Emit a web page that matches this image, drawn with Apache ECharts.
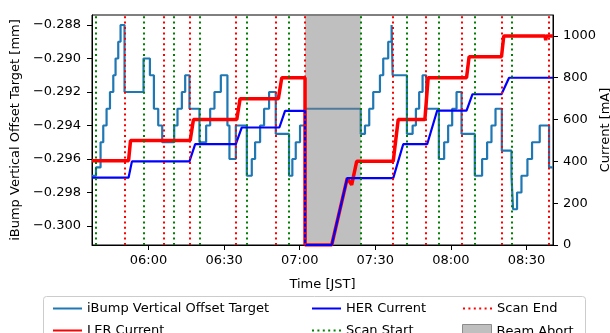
<!DOCTYPE html>
<html>
<head>
<meta charset="utf-8">
<script src="https://cdn.jsdelivr.net/npm/echarts@6/dist/echarts.min.js"></script>
<style>
  html, body { margin: 0; padding: 0; background: #fff; }
  #chart { width: 610px; height: 333px; }
</style>
</head>
<body>
<div id="chart"></div>
<script>
// Axis ticks and range (JST)
const timeTicks = ['06:00', '06:30', '07:00', '07:30', '08:00', '08:30'];
const timeRange = ['05:37:34', '08:40:32'];
const offsetTicks = [-0.300, -0.298, -0.296, -0.294, -0.292, -0.290, -0.288];
const offsetRange = [-0.301134, -0.287403];
const currentTicks = [0, 200, 400, 600, 800, 1000];
const currentRange = [0, 1100];

// Scan markers and beam abort window
const scanStart = ['05:39:09', '05:58:01', '06:10:11', '06:20:13', '06:39:01', '06:55:46',
                   '07:24:12', '07:42:33', '07:55:14', '08:09:30', '08:24:03'];
const scanEnd = ['05:50:29', '06:06:13', '06:16:15', '06:34:39', '06:50:30', '07:02:07',
                 '07:36:53', '07:50:12', '08:04:14', '08:20:13', '08:38:58'];
const beamAbort = ['07:02:07', '07:24:12'];

// iBump vertical offset target (mm), step changes
const offsetTimes = [
  '05:37:34', '05:39:09', '05:40:58', '05:42:02', '05:43:21', '05:44:42', '05:46:01', '05:46:55',
  '05:47:59', '05:48:54', '05:50:29', '05:58:01', '06:00:33', '06:02:08', '06:03:51', '06:05:26',
  '06:10:11', '06:11:30', '06:13:14', '06:14:33', '06:16:15', '06:20:13', '06:22:52', '06:24:28',
  '06:26:10', '06:28:42', '06:31:19', '06:32:07', '06:34:39', '06:39:01', '06:40:59', '06:42:18',
  '06:44:17', '06:45:52', '06:47:51', '06:50:30', '06:55:46', '06:57:05', '06:58:26', '07:00:08',
  '07:02:07', '07:24:12', '07:25:54', '07:27:36', '07:29:11', '07:31:51', '07:33:09', '07:35:08',
  '07:36:29', '07:36:53', '07:42:33', '07:44:49', '07:46:07', '07:47:25', '07:48:46', '07:50:12',
  '07:55:14', '07:57:20', '07:58:55', '08:00:31', '08:02:15', '08:04:14', '08:09:30', '08:12:24',
  '08:14:23', '08:16:07', '08:17:43', '08:20:13', '08:24:03', '08:24:41', '08:26:16', '08:28:01',
  '08:30:23', '08:32:13', '08:35:16', '08:38:58', '08:40:32'
];
const offsetValues = [
  -0.297, -0.2965, -0.295, -0.294, -0.293, -0.292, -0.291, -0.290,
  -0.289, -0.288, -0.292, -0.290, -0.291, -0.293, -0.294, -0.295,
  -0.294, -0.293, -0.292, -0.291, -0.293, -0.295, -0.294, -0.293,
  -0.292, -0.291, -0.294, -0.296, -0.294, -0.297, -0.296, -0.295,
  -0.294, -0.293, -0.292, -0.2945, -0.297, -0.296, -0.295, -0.294,
  -0.293, -0.2945, -0.294, -0.293, -0.292, -0.291, -0.290, -0.289,
  -0.288, -0.291, -0.2945, -0.294, -0.293, -0.292, -0.291, -0.293,
  -0.296, -0.295, -0.294, -0.293, -0.292, -0.2945, -0.297, -0.296,
  -0.295, -0.294, -0.293, -0.2955, -0.297, -0.299, -0.298, -0.297,
  -0.296, -0.295, -0.294, -0.2965, -0.2965
];

// LER beam current (mA)
const lerTimes = [
  '05:37:34', '05:52:04', '05:52:52', '06:16:32', '06:17:50', '06:35:02', '06:36:21', '06:51:32',
  '06:52:53', '07:02:07', '07:02:08', '07:12:42', '07:18:53', '07:20:38', '07:22:37', '07:37:07',
  '07:39:06', '07:49:41', '07:50:59', '08:06:13', '08:07:14', '08:20:05', '08:21:00', '08:37:22',
  '08:37:39', '08:37:56', '08:40:32'
];
const lerValues = [
  403, 403, 500, 500, 600, 600, 700, 700,
  800, 800, 0, 0, 320, 288, 400, 400,
  600, 600, 800, 800, 900, 900, 1000, 1000,
  980, 1000, 1000
];

// HER beam current (mA)
const herTimes = [
  '05:37:34', '05:52:04', '05:53:25', '06:16:15', '06:18:31', '06:34:39', '06:37:01', '06:51:56',
  '06:54:11', '07:02:07', '07:02:08', '07:12:42', '07:18:53', '07:37:07', '07:41:05', '07:50:36',
  '07:54:34', '08:06:13', '08:08:35', '08:20:05', '08:23:06', '08:37:22', '08:37:39', '08:37:56',
  '08:40:32'
];
const herValues = [
  322, 322, 400, 400, 482, 482, 562, 562,
  641, 641, 0, 0, 320, 320, 482, 482,
  643, 643, 721, 721, 800, 800, 792, 800,
  800
];

// "HH:MM[:SS]" -> minutes after midnight
function toMin(s) {
  const p = s.split(':').map(Number);
  return p[0] * 60 + p[1] + (p[2] || 0) / 60;
}
function fmtTime(m) {
  const h = Math.floor(m / 60), mm = Math.round(m - h * 60);
  return String(h).padStart(2, '0') + ':' + String(mm).padStart(2, '0');
}
const pairs = (ts, vs) => ts.map((t, i) => [toMin(t), vs[i]]);

const FONT = 'DejaVu Sans';
const dotted = [2, 3.4];
const black = '#000';

const chart = echarts.init(document.getElementById('chart'), null, { renderer: 'canvas' });

const axisLine = { show: true, lineStyle: { color: black, width: 1 } };
const axisTick = { show: true, length: 5, lineStyle: { color: black, width: 1 } };
const labelFont = { fontFamily: FONT, fontSize: 13, color: black };

// one legend block per entry, laid out as a 3 x 2 table
function legendEntry(name, left, top, extra) {
  return Object.assign({
    data: [name], left, top, orient: 'vertical', padding: 0,
    itemWidth: 29, itemHeight: 14, selectedMode: false,
    itemStyle: { opacity: 0 },
    textStyle: labelFont
  }, extra || {});
}

chart.setOption({
  animation: false,
  backgroundColor: '#fff',
  textStyle: { fontFamily: FONT },
  grid: {
    left: 92, right: 57, top: 15, bottom: 88,
    outerBoundsMode: 'none', containLabel: false,
    show: true, borderColor: black, borderWidth: 1, backgroundColor: 'transparent'
  },
  graphic: [{
    type: 'rect', z: 0,
    shape: { x: 43.5, y: 296.5, width: 542, height: 60, r: 3 },
    style: { fill: 'rgba(255,255,255,0.8)', stroke: '#cccccc', lineWidth: 1 }
  }],
  legend: [
    legendEntry('iBump Vertical Offset Target', 52, 302),
    legendEntry('LER Current', 52, 324),
    legendEntry('HER Current', 311, 302),
    legendEntry('Scan Start', 311, 324),
    legendEntry('Scan End', 462, 302),
    legendEntry('Beam Abort', 462, 324, {
      data: [{ name: 'Beam Abort', icon: 'rect' }],
      itemStyle: { color: '#bfbfbf', borderColor: '#8c8c8c', borderWidth: 1 }
    })
  ],
  xAxis: {
    type: 'value',
    min: toMin(timeRange[0]), max: toMin(timeRange[1]),
    name: 'Time [JST]', nameLocation: 'middle', nameGap: 33, nameMoveOverlap: false,
    nameTextStyle: labelFont,
    axisLine, axisTick: Object.assign({ customValues: timeTicks.map(toMin) }, axisTick),
    axisLabel: Object.assign({
      customValues: timeTicks.map(toMin), formatter: v => fmtTime(v), margin: 9
    }, labelFont),
    splitLine: { show: false }
  },
  yAxis: [{
    type: 'value', position: 'left',
    min: offsetRange[0], max: offsetRange[1],
    name: 'iBump Vertical Offset Target [mm]', nameLocation: 'middle', nameGap: 70, nameRotate: 90,
    nameMoveOverlap: false,
    nameTextStyle: labelFont,
    axisLine, axisTick: Object.assign({ customValues: offsetTicks }, axisTick),
    axisLabel: Object.assign({
      customValues: offsetTicks,
      formatter: v => (v < 0 ? '\u2212' : '') + Math.abs(v).toFixed(3),
      margin: 11
    }, labelFont),
    splitLine: { show: false }
  }, {
    type: 'value', position: 'right',
    min: currentRange[0], max: currentRange[1],
    name: 'Current [mA]', nameLocation: 'middle', nameGap: 46, nameRotate: 90,
    nameMoveOverlap: false,
    nameTextStyle: labelFont,
    axisLine, axisTick: Object.assign({ customValues: currentTicks }, axisTick),
    axisLabel: Object.assign({
      customValues: currentTicks, formatter: v => String(v), margin: 10
    }, labelFont),
    splitLine: { show: false }
  }],
  series: [
    {
      name: 'iBump Vertical Offset Target', type: 'line', yAxisIndex: 0, step: 'end',
      data: pairs(offsetTimes, offsetValues), symbol: 'none', z: 2,
      color: '#1f77b4', lineStyle: { color: '#1f77b4', width: 2.2 }
    },
    {
      // shaded beam-abort window spanning the full plot height
      name: 'Beam Abort', type: 'custom', yAxisIndex: 0, z: 3,
      data: [[toMin(beamAbort[0]), toMin(beamAbort[1])]],
      itemStyle: { color: 'rgba(128,128,128,0.5)' },
      renderItem: (params, api) => {
        const cs = params.coordSys;
        const x0 = api.coord([api.value(0), offsetRange[1]])[0];
        const x1 = api.coord([api.value(1), offsetRange[1]])[0];
        return {
          type: 'rect',
          shape: { x: x0, y: cs.y, width: x1 - x0, height: cs.height },
          style: { fill: 'rgba(128,128,128,0.5)' }
        };
      }
    },
    {
      name: 'LER Current', type: 'line', yAxisIndex: 1,
      data: pairs(lerTimes, lerValues), symbol: 'none', z: 4,
      color: '#ff0000', lineStyle: { color: '#ff0000', width: 3.5 }
    },
    {
      name: 'HER Current', type: 'line', yAxisIndex: 1,
      data: pairs(herTimes, herValues), symbol: 'none', z: 5,
      color: '#0000ff', lineStyle: { color: '#0000ff', width: 2.2 }
    },
    {
      name: 'Scan Start', type: 'line', yAxisIndex: 0, data: [], symbol: 'none',
      color: '#008000', lineStyle: { color: '#008000', width: 2, type: dotted },
      markLine: {
        silent: true, z: 6, symbol: ['none', 'none'], label: { show: false },
        lineStyle: { color: '#008000', width: 2, type: dotted },
        data: scanStart.map(t => ({ xAxis: toMin(t) }))
      }
    },
    {
      name: 'Scan End', type: 'line', yAxisIndex: 0, data: [], symbol: 'none',
      color: '#ff0000', lineStyle: { color: '#ff0000', width: 2, type: dotted },
      markLine: {
        silent: true, z: 6, symbol: ['none', 'none'], label: { show: false },
        lineStyle: { color: '#ff0000', width: 2, type: dotted },
        data: scanEnd.map(t => ({ xAxis: toMin(t) }))
      }
    }
  ]
});
</script>
</body>
</html>
